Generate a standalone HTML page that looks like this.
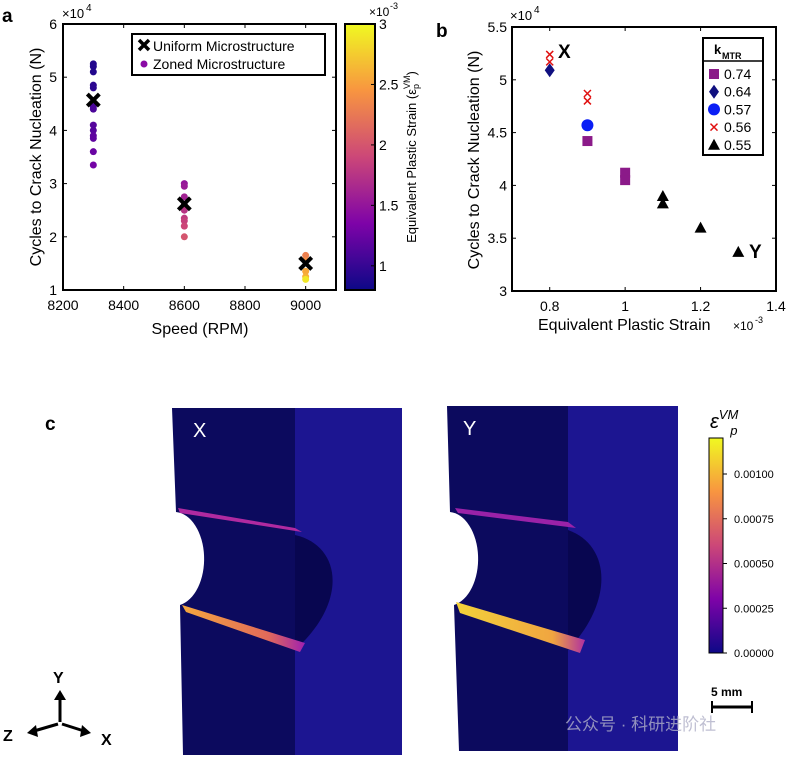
<!DOCTYPE html>
<html><head><meta charset="utf-8"><style>
body{margin:0;background:#fff;}
svg{display:block;font-family:"Liberation Sans",Arial,sans-serif;}
</style></head><body>
<svg id="fig" width="787" height="758" viewBox="0 0 787 758">
<defs>
<linearGradient id="plasma" x1="0" y1="1" x2="0" y2="0">
<stop offset="0" stop-color="#0d0887"/><stop offset="0.25" stop-color="#7e03a8"/><stop offset="0.5" stop-color="#cc4778"/><stop offset="0.75" stop-color="#f89540"/><stop offset="1" stop-color="#f0f921"/>
</linearGradient>
<linearGradient id="bandX" x1="0" y1="0" x2="1" y2="0"><stop offset="0" stop-color="#f5a73e"/><stop offset="0.7" stop-color="#e06a5a"/><stop offset="1" stop-color="#a020b0"/></linearGradient>
<linearGradient id="bandY" x1="0" y1="0" x2="1" y2="0"><stop offset="0" stop-color="#f3d23a"/><stop offset="0.75" stop-color="#f0a540"/><stop offset="1" stop-color="#b030a0"/></linearGradient>
</defs>
<g id="panelA"></g>
<g id="panelB"></g>
<g id="panelC">
 <text x="45" y="430" font-size="19" font-weight="bold">c</text>
 <g>
  <rect x="295" y="408" width="107" height="347" fill="#1c1591"/>
  <polygon points="172,408 295,408 295,755 183,755 180,605 176,512" fill="#0c0a5e"/>
  <path d="M295,535 C340,545 350,600 295,650 Z" fill="#080650"/>
  <path d="M176,512 A30,47 0 0 1 180,605 L172,605 L172,512 Z" fill="#fff"/>
  <polygon points="178,508 295,528 302,532 180,513" fill="#b02aa0"/>
  <polygon points="182,605 305,643 300,652 186,612" fill="url(#bandX)"/>
  <text x="193" y="437" font-size="20" fill="#fff">X</text>
 </g>
 <g>
  <rect x="568" y="406" width="110" height="345" fill="#1c1591"/>
  <polygon points="447,406 568,406 568,751 459,751 454,605 450,512" fill="#0c0a5e"/>
  <path d="M568,530 C610,545 615,600 568,650 Z" fill="#080650"/>
  <path d="M450,512 A30,47 0 0 1 454,605 L446,605 L446,512 Z" fill="#fff"/>
  <polygon points="455,508 568,522 576,528 458,513" fill="#9a22a8"/>
  <polygon points="456,602 585,640 580,653 460,613" fill="url(#bandY)"/>
  <text x="463" y="435" font-size="20" fill="#fff">Y</text>
 </g>
 <text x="565" y="730" font-size="17" fill="#b0b0c8" opacity="0.8" font-family="Liberation Sans, Noto Sans CJK SC, sans-serif">公众号 · 科研进阶社</text>
 <g>
  <text x="710" y="428" font-size="20" font-style="italic">ε<tspan font-size="13" dy="-9">VM</tspan><tspan font-size="13" dy="16" dx="-8">p</tspan></text>
  <rect x="709" y="438" width="14" height="215" fill="url(#plasma)" stroke="#000" stroke-width="1"/>
  <g id="cbcTicks"></g>
 </g>
 <g>
  <text x="711" y="696" font-size="12" font-weight="bold">5 mm</text>
  <line x1="712" y1="707" x2="752" y2="707" stroke="#000" stroke-width="3"/>
  <line x1="712" y1="701" x2="712" y2="713" stroke="#000" stroke-width="2"/>
  <line x1="752" y1="701" x2="752" y2="713" stroke="#000" stroke-width="2"/>
 </g>
 <g stroke="#000" stroke-width="3" fill="#000">
  <line x1="60" y1="722" x2="60" y2="698"/><polygon points="54,700 66,700 60,690" stroke="none"/>
  <line x1="58" y1="724" x2="34" y2="731"/><polygon points="36,725 38,737 27,733" stroke="none"/>
  <line x1="62" y1="724" x2="84" y2="731"/><polygon points="82,725 80,737 91,733" stroke="none"/>
  <text x="53" y="683" font-size="16" font-weight="bold" stroke="none">Y</text>
  <text x="3" y="741" font-size="16" font-weight="bold" stroke="none">Z</text>
  <text x="101" y="745" font-size="16" font-weight="bold" stroke="none">X</text>
 </g>
</g>
</svg>
<script>
// ---------- Panel A data ----------
const aSpeeds = [8300, 8600, 9000];
const aUniform = [4.57, 2.62, 1.50];
const aDotSpeed = [8300,8300,8300,8300,8300,8300,8300,8300,8300,8300,8300,8300,8300, 8600,8600,8600,8600,8600,8600,8600,8600,8600, 9000,9000,9000,9000,9000];
const aDotCycles = [5.25,5.2,5.1,4.85,4.8,4.45,4.4,4.1,4.0,3.9,3.85,3.6,3.35, 3.0,2.95,2.75,2.6,2.5,2.35,2.3,2.2,2.0, 1.65,1.55,1.35,1.25,1.2];
const aDotStrain = [0.9,0.9,0.9,0.95,0.95,1.1,1.1,1.15,1.15,1.2,1.2,1.25,1.3, 1.5,1.55,1.6,1.7,1.75,1.8,1.85,1.9,2.0, 2.3,2.4,2.55,2.6,2.9];
const aXTicks = [8200,8400,8600,8800,9000];
const aYTicks = [1,2,3,4,5,6];
const aCbTicks = [1,1.5,2,2.5,3];
// ---------- Panel B data ----------
const bSeries = ["0.74","0.64","0.57","0.56","0.55"];
const bStrain074 = [0.9,1.0,1.0]; const bCycles074 = [4.42,4.12,4.05];
const bStrain064 = [0.8]; const bCycles064 = [5.09];
const bStrain057 = [0.9]; const bCycles057 = [4.57];
const bStrain056 = [0.8,0.8,0.9,0.9]; const bCycles056 = [5.24,5.17,4.87,4.80];
const bStrain055 = [1.1,1.1,1.2,1.3]; const bCycles055 = [3.90,3.83,3.60,3.37];
const bXTicks = [0.8,1,1.2,1.4];
const bYTicks = [3,3.5,4,4.5,5,5.5];
const cTicks = ["0.00000","0.00025","0.00050","0.00075","0.00100"];
const cTickVals = [0,0.00025,0.0005,0.00075,0.001];

const NS="http://www.w3.org/2000/svg";
function mk(parent,tag,attrs,text){const e=document.createElementNS(NS,tag);for(const k in attrs)e.setAttribute(k,attrs[k]);if(text!==undefined)e.textContent=text;parent.appendChild(e);return e;}
const stops=[[13,8,135],[126,3,168],[204,71,120],[248,149,64],[240,249,33]];
function plasma(t){t=Math.max(0,Math.min(1,t))*4;const i=Math.min(3,Math.floor(t)),f=t-i;const a=stops[i],b=stops[i+1];return `rgb(${a.map((v,k)=>Math.round(v+(b[k]-v)*f)).join(',')})`;}

// ---------- Panel A ----------
const A=document.getElementById('panelA');
const ax=v=>63+(v-8200)/900*273, ay=v=>290-(v-1)/5*266;
let t=mk(A,'text',{x:2,y:22,'font-size':19,'font-weight':'bold'},'a');


aXTicks.forEach(v=>{const x=ax(v);mk(A,'line',{x1:x,y1:290,x2:x,y2:286,stroke:'#000'});mk(A,'line',{x1:x,y1:24,x2:x,y2:28,stroke:'#000'});
 const l=mk(A,'text',{x:x,y:310,'font-size':14,'text-anchor':'middle'},String(v));
 
 });
aYTicks.forEach(v=>{const y=ay(v);mk(A,'line',{x1:63,y1:y,x2:67,y2:y,stroke:'#000'});mk(A,'line',{x1:336,y1:y,x2:332,y2:y,stroke:'#000'});
 const l=mk(A,'text',{x:57,y:y+5,'font-size':14,'text-anchor':'end'},String(v));
 
 });
mk(A,'text',{x:62,y:18,'font-size':13},'×10');
mk(A,'text',{x:86,y:11,'font-size':10},'4');
let xl=mk(A,'text',{x:200,y:334,'font-size':16,'text-anchor':'middle'},'Speed  (RPM)');


let yl=mk(A,'text',{x:0,y:0,'font-size':16,'text-anchor':'middle',transform:'translate(41,157) rotate(-90)'},'Cycles to  Crack  Nucleation  (N)');


aDotSpeed.forEach((s,i)=>{const c=mk(A,'circle',{cx:ax(s),cy:ay(aDotCycles[i]),r:3.5,fill:plasma((aDotStrain[i]-0.8)/2.2)});
 
 });
aSpeeds.forEach((s,i)=>{const x=ax(s),y=ay(aUniform[i]);const g=mk(A,'g',{stroke:'#000','stroke-width':4});
 
 
 mk(g,'line',{x1:x-6,y1:y-6,x2:x+6,y2:y+6});mk(g,'line',{x1:x-6,y1:y+6,x2:x+6,y2:y-6});});
mk(A,'rect',{x:63,y:24,width:273,height:266,fill:'none',stroke:'#000','stroke-width':2});
const lg=mk(A,'g',{});


mk(lg,'rect',{x:132,y:34,width:193,height:41,fill:'#fff',stroke:'#000','stroke-width':2});
mk(lg,'path',{d:'M139,40 L149,50 M139,50 L149,40',stroke:'#000','stroke-width':3.5});
mk(lg,'text',{x:153,y:51,'font-size':14},'Uniform  Microstructure');
mk(lg,'circle',{cx:144,cy:64,r:3.5,fill:'#8a0aa5'});
mk(lg,'text',{x:153,y:69,'font-size':14},'Zoned  Microstructure');
// colorbar a
const cy=v=>290-(v-0.8)/2.2*266;
const cb=mk(A,'rect',{x:345,y:24,width:30,height:266,fill:'url(#plasma)',stroke:'#000','stroke-width':2});


aCbTicks.forEach(v=>{const y=cy(v);mk(A,'line',{x1:375,y1:y,x2:371,y2:y,stroke:'#000'});
 const l=mk(A,'text',{x:379,y:y+5,'font-size':14},String(v));
 
 });
mk(A,'text',{x:369,y:16,'font-size':12},'×10');mk(A,'text',{x:390,y:9,'font-size':9},'-3');
let cl=mk(A,'text',{x:0,y:0,'font-size':13,'text-anchor':'middle',transform:'translate(416,157) rotate(-90)'});


mk(cl,'tspan',{},'Equivalent  Plastic  Strain  (ε');
mk(cl,'tspan',{'font-size':9,dy:3},'p');
mk(cl,'tspan',{'font-size':9,dy:-9,dx:-5},'VM');
mk(cl,'tspan',{dy:6},')');

// ---------- Panel B ----------
const B=document.getElementById('panelB');
const bx=v=>512+(v-0.7)/0.7*264, by=v=>291-(v-3)/2.5*264;
t=mk(B,'text',{x:436,y:37,'font-size':19,'font-weight':'bold'},'b');


bXTicks.forEach(v=>{const x=bx(v);mk(B,'line',{x1:x,y1:291,x2:x,y2:287,stroke:'#000'});mk(B,'line',{x1:x,y1:27,x2:x,y2:31,stroke:'#000'});
 const l=mk(B,'text',{x:x,y:311,'font-size':14,'text-anchor':'middle'},String(v));
 
 });
bYTicks.forEach(v=>{const y=by(v);mk(B,'line',{x1:512,y1:y,x2:516,y2:y,stroke:'#000'});mk(B,'line',{x1:776,y1:y,x2:772,y2:y,stroke:'#000'});
 const l=mk(B,'text',{x:507,y:y+5,'font-size':14,'text-anchor':'end'},String(v));
 
 });
mk(B,'text',{x:510,y:20,'font-size':13},'×10');mk(B,'text',{x:534,y:13,'font-size':10},'4');
xl=mk(B,'text',{x:538,y:330,'font-size':16},'Equivalent  Plastic  Strain');


mk(B,'text',{x:733,y:330,'font-size':12},'×10');mk(B,'text',{x:755,y:323,'font-size':9},'-3');
yl=mk(B,'text',{x:0,y:0,'font-size':16,'text-anchor':'middle',transform:'translate(479,160) rotate(-90)'},'Cycles to  Crack  Nucleation  (N)');


function sq(x,y,c){return mk(B,'rect',{x:x-5,y:y-5,width:10,height:10,fill:c});}
function di(x,y,c){return mk(B,'polygon',{points:`${x},${y-7} ${x+5},${y} ${x},${y+7} ${x-5},${y}`,fill:c});}
function ci(x,y,c){return mk(B,'circle',{cx:x,cy:y,r:6,fill:c});}
function cr(x,y,c){return mk(B,'path',{d:`M${x-3.5},${y-3.5}L${x+3.5},${y+3.5}M${x-3.5},${y+3.5}L${x+3.5},${y-3.5}`,stroke:c,'stroke-width':1.5});}
function tr(x,y,c){return mk(B,'polygon',{points:`${x},${y-6} ${x+6},${y+5} ${x-6},${y+5}`,fill:c});}
const bDefs=[[bStrain074,bCycles074,sq,'#8b1a89'],[bStrain064,bCycles064,di,'#101080'],[bStrain057,bCycles057,ci,'#0a1ef5'],[bStrain056,bCycles056,cr,'#e01010'],[bStrain055,bCycles055,tr,'#000']];
bDefs.forEach((d,k)=>{d[0].forEach((s,i)=>{const m=d[2](bx(s),by(d[1][i]),d[3]);
 
 });});
mk(B,'text',{x:558,y:58,'font-size':19,'font-weight':'bold'},'X');
mk(B,'text',{x:749,y:258,'font-size':19,'font-weight':'bold'},'Y');
mk(B,'rect',{x:512,y:27,width:264,height:264,fill:'none',stroke:'#000','stroke-width':2});
const lb=mk(B,'g',{});


mk(lb,'rect',{x:703,y:38,width:60,height:117,fill:'#fff',stroke:'#000','stroke-width':2});
mk(lb,'line',{x1:703,y1:61,x2:763,y2:61,stroke:'#000','stroke-width':1.5});
mk(lb,'text',{x:714,y:54,'font-size':13,'font-weight':'bold'},'k');
mk(lb,'text',{x:722,y:59,'font-size':9,'font-weight':'bold'},'MTR');
bDefs.forEach((d,k)=>{const y=74+k*17.7;const m=d[2](714,y,d[3]);lb.appendChild(m);
 const l=mk(lb,'text',{x:724,y:y+5,'font-size':14},bSeries[k]);
 
 });

// ---------- Panel C colorbar ticks ----------
const C=document.getElementById('cbcTicks');
cTickVals.forEach((v,i)=>{const y=653-v/0.001*179;mk(C,'line',{x1:723,y1:y,x2:727,y2:y,stroke:'#000'});
 const l=mk(C,'text',{x:734,y:y+4,'font-size':11},cTicks[i]);
 
 });
</script>
</body></html>
